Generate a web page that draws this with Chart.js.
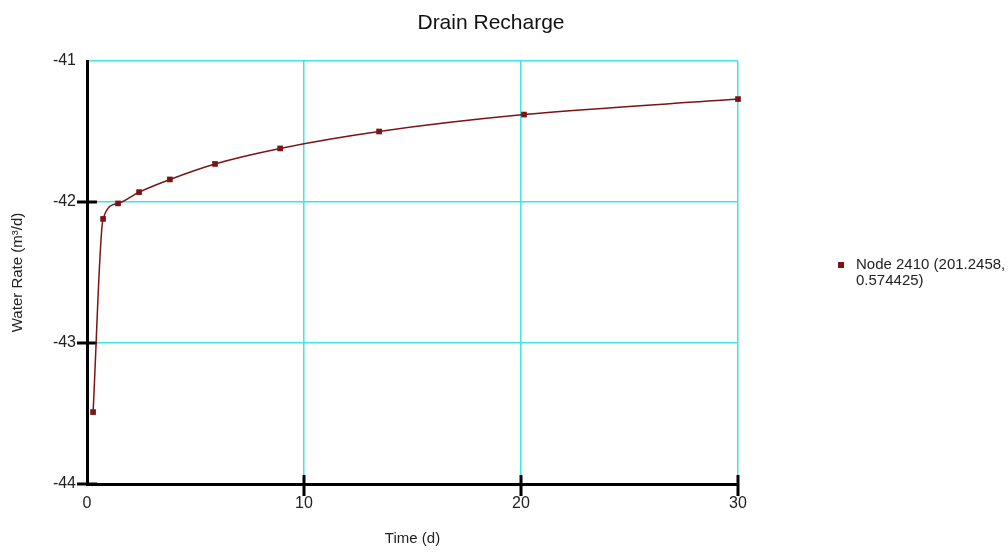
<!DOCTYPE html>
<html lang="en">
<head>
    <meta charset="UTF-8">
    <title>Drain Recharge</title>
    <style>
        * { margin: 0; padding: 0; box-sizing: border-box; }
        body { background: #fff; width: 1008px; height: 552px; overflow: hidden; }
        .wrap { position: relative; width: 1008px; height: 552px; }
    </style>
    <script src="https://cdn.jsdelivr.net/npm/chart.js"></script>
</head>
<body>
    <div class="wrap">
        <canvas id="recharge" width="1008" height="552"></canvas>
    </div>
    <script>
        // time steps (d) and water rate (m3/d) at node 2410
        const timeDays = [0.28, 0.74, 1.43, 2.4, 3.82, 5.9, 8.9, 13.46, 20.14, 30];
        const waterRate = [-43.49, -42.12, -42.01, -41.93, -41.84, -41.73, -41.62, -41.5, -41.38, -41.27];
        const xTicks = [0, 10, 20, 30];
        const yTicks = [-44, -43, -42, -41];
        const seriesName = ['Node 2410 (201.2458,', '0.574425)'];

        const FONT = "'Liberation Sans', Arial, sans-serif";
        const TEXT = '#222';
        const LINE = '#7b1414';
        const GRID = '#3fe3e8';

        // title, crossing axis ticks and the side legend
        const extras = {
            id: 'extras',
            beforeDatasetsDraw(chart) {
                const { ctx, scales: { x, y } } = chart;
                ctx.save();
                ctx.strokeStyle = '#000';
                ctx.lineWidth = 3;
                yTicks.slice(0, 3).forEach(v => {
                    const py = Math.round(y.getPixelForValue(v));
                    ctx.beginPath();
                    ctx.moveTo(x.left - 10, py);
                    ctx.lineTo(x.left + 10, py);
                    ctx.stroke();
                });
                xTicks.slice(1).forEach(v => {
                    const px = Math.round(x.getPixelForValue(v));
                    ctx.beginPath();
                    ctx.moveTo(px, y.bottom - 9);
                    ctx.lineTo(px, y.bottom + 12);
                    ctx.stroke();
                });
                ctx.restore();
            },
            afterDraw(chart) {
                const { ctx } = chart;
                ctx.save();
                ctx.fillStyle = '#111';
                ctx.font = '21px ' + FONT;
                ctx.textAlign = 'center';
                ctx.textBaseline = 'alphabetic';
                ctx.fillText('Drain Recharge', 491, 29);

                ctx.fillStyle = LINE;
                ctx.fillRect(838, 262, 6, 6);
                ctx.fillStyle = TEXT;
                ctx.font = '15px ' + FONT;
                ctx.textAlign = 'left';
                ctx.textBaseline = 'middle';
                seriesName.forEach((t, i) => ctx.fillText(t, 856, 265 + i * 16));
                ctx.restore();
            }
        };

        new Chart(document.getElementById('recharge'), {
            type: 'line',
            data: {
                datasets: [{
                    label: seriesName.join(' '),
                    data: timeDays.map((t, i) => ({ x: t, y: waterRate[i] })),
                    borderColor: LINE,
                    backgroundColor: LINE,
                    borderWidth: 1.5,
                    cubicInterpolationMode: 'monotone',
                    pointStyle: 'rect',
                    pointRadius: 4,
                    pointBorderWidth: 0,
                    clip: false,
                    fill: false
                }]
            },
            options: {
                responsive: false,
                animation: false,
                layout: { padding: { top: 61, right: 270, left: 0, bottom: 0 } },
                plugins: {
                    legend: { display: false },
                    title: { display: false },
                    tooltip: { enabled: false }
                },
                scales: {
                    x: {
                        type: 'linear',
                        min: 0,
                        max: 30,
                        afterBuildTicks: s => { s.ticks = xTicks.map(v => ({ value: v })); },
                        afterFit: s => { s.height = 68; },
                        grid: { color: GRID, lineWidth: 1.5, drawTicks: false },
                        border: { color: '#000', width: 3 },
                        ticks: { color: TEXT, font: { family: FONT, size: 16 }, padding: 10 },
                        title: {
                            display: true,
                            text: 'Time (d)',
                            color: TEXT,
                            font: { family: FONT, size: 15 },
                            padding: { top: 0, bottom: 4 }
                        }
                    },
                    y: {
                        min: -44,
                        max: -41,
                        afterBuildTicks: s => { s.ticks = yTicks.map(v => ({ value: v })); },
                        afterFit: s => { s.width = 87; },
                        grid: { color: GRID, lineWidth: 1.5, drawTicks: false },
                        border: { color: '#000', width: 3 },
                        ticks: { color: TEXT, font: { family: FONT, size: 16 }, padding: 11 },
                        title: {
                            display: true,
                            text: 'Water Rate (m³/d)',
                            color: TEXT,
                            font: { family: FONT, size: 15 },
                            padding: { top: 9, bottom: 0 }
                        }
                    }
                }
            },
            plugins: [extras]
        });
    </script>
</body>
</html>
